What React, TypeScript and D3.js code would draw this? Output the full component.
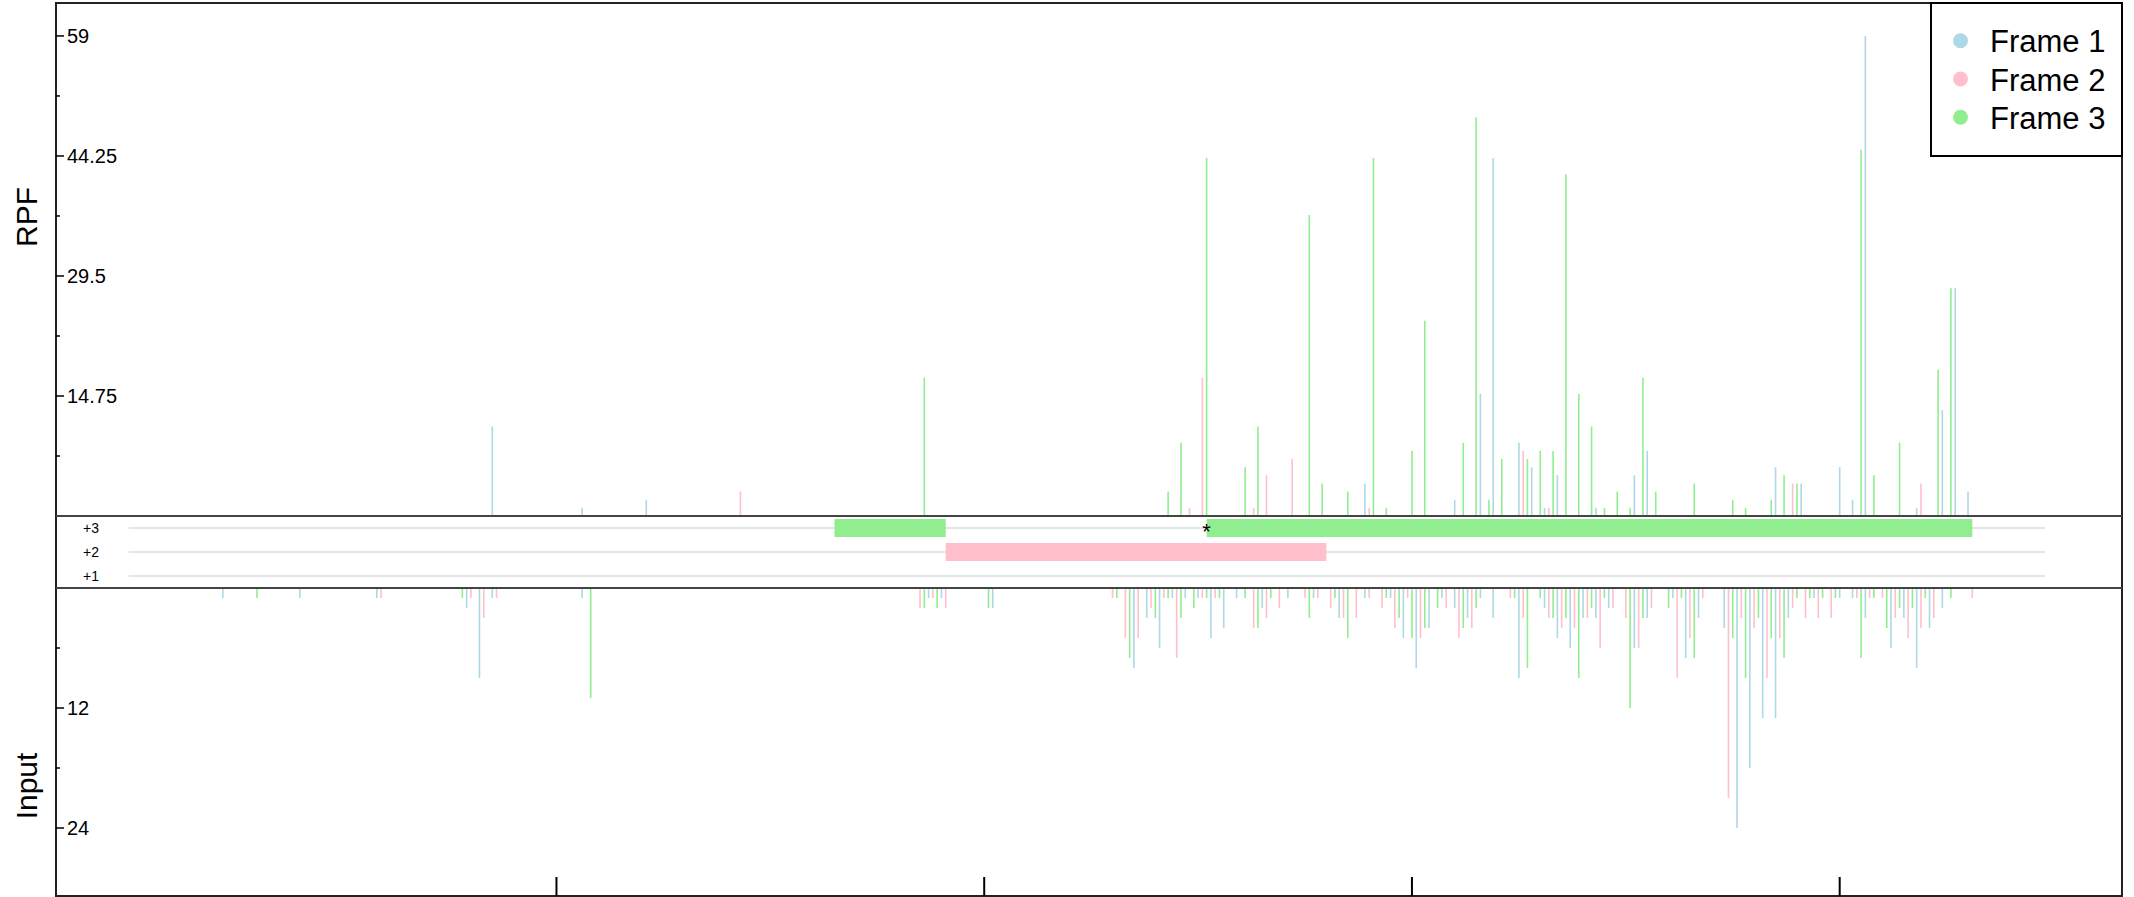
import React from "react";
import * as d3 from "d3";

// ---------- data ----------
const frameNames = ["Frame 1", "Frame 2", "Frame 3"];
const frameColors = ["#ADD8E6", "#FFC0CB", "#90EE90"];

// RPF (positions in nt, counts)
const rpfPos = [85, 106, 121, 143, 186, 243, 246, 248, 251, 252, 261, 263, 264, 266, 272, 276, 279, 285, 289, 290, 291, 294, 300, 303, 310, 312, 315, 316, 318, 319, 321, 325, 326, 327, 328, 330, 331, 332, 333, 334, 336, 339, 342, 343, 345, 348, 351, 352, 354, 355, 357, 366, 375, 378, 384, 385, 387, 389, 390, 391, 400, 403, 405, 406, 408, 414, 418, 419, 423, 424, 426, 427, 430];
const rpfVal = [11, 1, 2, 3, 17, 3, 9, 1, 17, 44, 6, 1, 11, 5, 7, 37, 4, 3, 4, 1, 44, 1, 8, 24, 2, 9, 49, 15, 2, 44, 7, 9, 8, 7, 6, 8, 1, 1, 8, 5, 42, 15, 11, 1, 1, 3, 1, 5, 17, 8, 3, 4, 2, 1, 2, 6, 5, 4, 4, 4, 6, 2, 45, 59, 5, 9, 1, 4, 18, 13, 28, 28, 3];

// Input (positions in nt, counts)
const inputPos = [22, 30, 40, 58, 59, 78, 79, 80, 82, 83, 85, 86, 106, 108, 185, 186, 187, 188, 189, 190, 191, 201, 202,
  230, 231, 233, 234, 235, 236, 238, 239, 240, 241, 242, 243, 244, 245, 246, 247, 249, 250, 251, 252, 253, 254, 255, 256, 259, 261, 263, 264, 265, 266, 267, 269, 271, 275, 276, 277, 278, 281, 282, 283, 284, 285, 287, 289, 290, 293, 294, 295, 296, 297, 298, 299, 300, 301, 302, 303, 304, 306, 307, 308, 310, 311, 312, 313, 314, 315, 316, 319, 323, 324, 325, 326, 327, 330, 331, 332, 333, 334, 335, 336, 337, 338, 339, 340, 341, 342, 343, 344, 345, 346, 347, 350, 351, 352, 353, 354, 355, 356, 360, 361, 362, 363, 364, 365, 366, 367, 368, 373, 374, 375, 376, 377, 378, 379, 380, 381, 382, 383, 384, 385, 386, 387, 388, 389, 390, 392, 393, 394, 395, 396, 398, 399, 400, 403, 404, 405, 406, 407, 408, 410, 411, 412, 413, 414, 415, 416, 417, 418, 419, 420, 421, 422, 424, 426, 431];
const inputVal = [1, 1, 1, 1, 1, 1, 2, 1, 9, 3, 1, 1, 1, 11, 2, 2, 1, 1, 2, 1, 2, 2, 2,
  1, 1, 5, 7, 8, 5, 3, 2, 3, 6, 1, 1, 1, 7, 3, 1, 2, 1, 1, 1, 5, 1, 1, 4, 1, 1, 4, 4, 2, 3, 1, 2, 1, 1, 3, 1, 1, 2, 1, 3, 3, 5, 3, 1, 1, 2, 1, 1, 4, 3, 5, 1, 5, 8, 5, 4, 4, 2, 1, 2, 2, 5, 4, 3, 4, 2, 1, 3, 1, 1, 9, 3, 8, 1, 2, 3, 3, 5, 4, 3, 6, 4, 9, 3, 3, 2, 3, 6, 1, 2, 2, 3, 12, 6, 6, 3, 3, 2, 2, 1, 9, 1, 7, 5, 7, 3, 1, 4, 21, 5, 24, 3, 9, 18, 4, 3, 13, 9, 5, 13, 5, 7, 3, 2, 1, 3, 1, 1, 3, 1, 3, 1, 1, 1, 1, 7, 3, 1, 1, 1, 4, 6, 3, 2, 3, 5, 2, 8, 4, 1, 4, 3, 2, 1, 1];

// ORFs
const orfStart = [165, 191, 252];
const orfEnd = [191, 280, 431];
const orfFrame = [3, 2, 3];
const startMarks = [252];
const transcriptLength = 448;

// axes
const xTicks = [100, 200, 300, 400];
const rpfTicks = [14.75, 29.5, 44.25, 59];
const rpfMinor = [7.375, 22.125, 36.875, 51.625];
const inputTicks = [12, 24];
const inputMinor = [6, 18];
const frameRows = [3, 2, 1];

const frameOf = (p: number) => ((p - 1) % 3) + 1;

export default function App() {
  const W = 2134, H = 897;
  const L = 56, R = 2122, T = 3, B = 896;
  const rpfBase = 516, inTop = 588;
  const x = d3.scaleLinear().domain([-17, 466]).range([L, R]);
  const yR = d3.scaleLinear().domain([0, 63.05]).range([rpfBase, T]);
  const yI = d3.scaleLinear().domain([0, 30.8]).range([inTop, B]);
  const rowY = d3.scaleOrdinal<number, number>().domain([3, 2, 1]).range([528, 552, 576]);
  const font = "'Liberation Sans', Arial, Helvetica, sans-serif";
  const fs = 20;

  return (
    <svg width={W} height={H} style={{ position: "absolute", left: 0, top: 0, display: "block", background: "#fff" }} fontFamily={font}>
      <rect x={0} y={0} width={W} height={H} fill="#fff" />
      {/* RPF bars */}
      {rpfPos.map((p, i) => (
        <line key={"r" + i} x1={x(p)} x2={x(p)} y1={yR(0)} y2={yR(rpfVal[i])}
          stroke={frameColors[frameOf(p) - 1]} strokeWidth={1.6} />
      ))}
      {/* Input bars */}
      {inputPos.map((p, i) => (
        <line key={"i" + i} x1={x(p)} x2={x(p)} y1={yI(0)} y2={yI(inputVal[i])}
          stroke={frameColors[frameOf(p) - 1]} strokeWidth={1.6} />
      ))}
      {/* frame track rows */}
      {frameRows.map((f) => (
        <g key={"row" + f}>
          <line x1={x(0)} x2={x(transcriptLength)} y1={rowY(f)} y2={rowY(f)} stroke="#dcdcdc" strokeWidth={1.5} />
          <text x={99} y={rowY(f) + 5} fontSize={14} textAnchor="end" fill="#000">{"+" + f}</text>
        </g>
      ))}
      {orfStart.map((s, i) => (
        <rect key={"orf" + i} x={x(s)} y={rowY(orfFrame[i]) - 9} width={x(orfEnd[i]) - x(s)} height={18}
          fill={frameColors[orfFrame[i] - 1]} />
      ))}
      {startMarks.map((s, i) => (
        <text key={"st" + i} x={x(s)} y={rowY(3) + 11} fontSize={22} textAnchor="middle" fill="#000">*</text>
      ))}
      {/* frame borders */}
      <rect x={L} y={T} width={R - L} height={B - T} fill="none" stroke="#222" strokeWidth={2} />
      <line x1={L} x2={R} y1={rpfBase} y2={rpfBase} stroke="#444" strokeWidth={2} />
      <line x1={L} x2={R} y1={inTop} y2={inTop} stroke="#444" strokeWidth={2} />
      {/* RPF axis */}
      {rpfTicks.map((v) => (
        <g key={"rt" + v}>
          <line x1={L} x2={L + 8} y1={yR(v)} y2={yR(v)} stroke="#000" strokeWidth={1.5} />
          <text x={67} y={yR(v) + fs * 0.36} fontSize={fs} fill="#000">{v}</text>
        </g>
      ))}
      {rpfMinor.map((v) => (
        <line key={"rm" + v} x1={L} x2={L + 4} y1={yR(v)} y2={yR(v)} stroke="#000" strokeWidth={1.5} />
      ))}
      {/* Input axis */}
      {inputTicks.map((v) => (
        <g key={"it" + v}>
          <line x1={L} x2={L + 8} y1={yI(v)} y2={yI(v)} stroke="#000" strokeWidth={1.5} />
          <text x={67} y={yI(v) + fs * 0.36} fontSize={fs} fill="#000">{v}</text>
        </g>
      ))}
      {inputMinor.map((v) => (
        <line key={"im" + v} x1={L} x2={L + 4} y1={yI(v)} y2={yI(v)} stroke="#000" strokeWidth={1.5} />
      ))}
      {/* x ticks */}
      {xTicks.map((t) => (
        <line key={"xt" + t} x1={x(t)} x2={x(t)} y1={B - 19} y2={B} stroke="#000" strokeWidth={2} />
      ))}
      {/* y labels */}
      <text transform="translate(37,217) rotate(-90)" fontSize={30} textAnchor="middle" fill="#000">RPF</text>
      <text transform="translate(37,786) rotate(-90)" fontSize={30} textAnchor="middle" fill="#000">Input</text>
      {/* legend */}
      <rect x={1931} y={T} width={R - 1931} height={153} fill="#fff" stroke="#000" strokeWidth={2} />
      {frameNames.map((n, i) => (
        <g key={"lg" + i}>
          <circle cx={1960.5} cy={40.7 + i * 38.3} r={7.5} fill={frameColors[i]} />
          <text x={1990} y={40.7 + i * 38.3 + 11.5} fontSize={31} fill="#000">{n}</text>
        </g>
      ))}
    </svg>
  );
}
